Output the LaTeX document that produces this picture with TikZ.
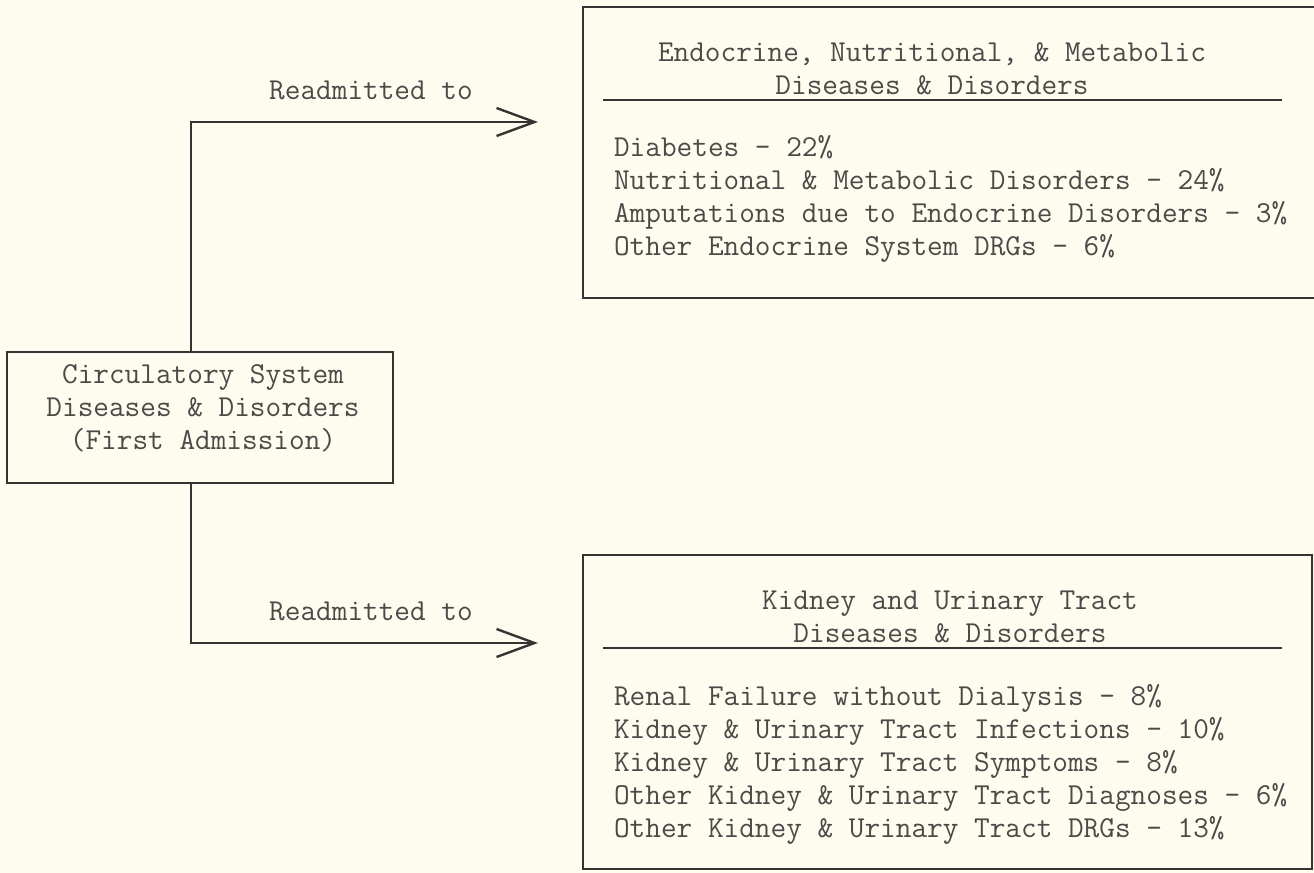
\documentclass[tikz,border=0pt]{standalone}
\usetikzlibrary{positioning,arrows.meta}
\definecolor{paper}{HTML}{FDFCEF}
\definecolor{ink}{HTML}{383333}
\definecolor{typed}{HTML}{4D4949}

\begin{document}
\begin{tikzpicture}[x=0.5pt,y=-0.5pt,
      every node/.style={font=\fontsize{15.2}{16.5}\selectfont\ttfamily,text=typed},
      frame/.style={draw=ink,line width=1.3pt,inner sep=0pt},
      flow/.style={draw=ink,line width=1.3pt,-{Straight Barb[length=19pt,width=14pt,line width=1.2pt]}}]
    \fill[paper] (0,0) rectangle (1314,873);
    \useasboundingbox (0,0) rectangle (1314,873);
    \clip (0,0) rectangle (1314,873);

    % first admission
    \node[frame,minimum width=193pt,minimum height=65.5pt] (first) at (200,417.5) {};
    \node[align=center] (firsttxt) at (203,408) {Circulatory System\\Diseases \& Disorders\\(First Admission)};

    % readmission boxes
    \node[frame,minimum width=373.5pt,minimum height=145.5pt] (endo) at (956.5,152.5) {};
    \node[align=center] (endohead) at (932,68.5) {Endocrine, Nutritional, \& Metabolic\\Diseases \& Disorders};
    \draw[ink,line width=1pt] (603,100) -- (1282,100);
    \node[align=left,anchor=west] (endolist) at (607,199) {Diabetes - 22\%\\Nutritional \& Metabolic Disorders - 24\%\\Amputations due to Endocrine Disorders - 3\%\\Other Endocrine System DRGs - 6\%};

    \node[frame,minimum width=364.5pt,minimum height=157pt] (kidney) at (947.5,712) {};
    \node[align=center] (kidneyhead) at (950,616.5) {Kidney and Urinary Tract\\Diseases \& Disorders};
    \draw[ink,line width=1pt] (603,648) -- (1282,648);
    \node[align=left,anchor=west] (kidneylist) at (607,764) {Renal Failure without Dialysis - 8\%\\Kidney \& Urinary Tract Infections - 10\%\\Kidney \& Urinary Tract Symptoms - 8\%\\Other Kidney \& Urinary Tract Diagnoses - 6\%\\Other Kidney \& Urinary Tract DRGs - 13\%};

    % connectors
    \coordinate (kneeA) at (191,122);
    \coordinate (tipA) at (538,122);
    \coordinate (kneeB) at (191,643);
    \coordinate (tipB) at (538,643);
    \draw[flow] (first.north -| kneeA) -- (kneeA) -- (tipA);
    \draw[flow] (first.south -| kneeB) -- (kneeB) -- (tipB);
    \node (readA) at (371,90) {Readmitted to};
    \node (readB) at (371,611) {Readmitted to};
  \end{tikzpicture}
\end{document}
